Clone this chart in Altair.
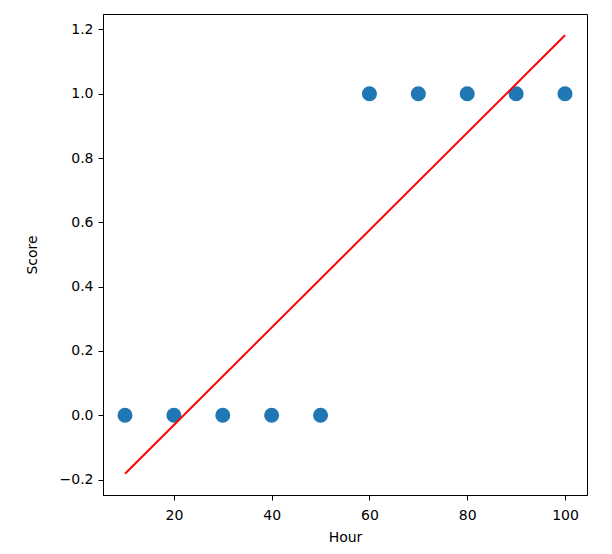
import altair as alt
import pandas as pd

hours = [10, 20, 30, 40, 50, 60, 70, 80, 90, 100]
scores = [0, 0, 0, 0, 0, 1, 1, 1, 1, 1]
fit_x = [10, 100]
fit_y = [-0.1818, 1.1818]

pts = pd.DataFrame({"Hour": hours, "Score": scores})
fit = pd.DataFrame({"Hour": fit_x, "Score": fit_y})

xs = alt.Scale(domain=[5.5, 104.5], nice=False, zero=False)
ys = alt.Scale(domain=[-0.248, 1.248], nice=False, zero=False)

common = dict(
    grid=False, labelFont="DejaVu Sans", titleFont="DejaVu Sans",
    labelFontSize=14, titleFontSize=14, titleFontWeight="normal",
    labelColor="black", titleColor="black", tickColor="black",
    domainColor="black", tickSize=5, labelFlush=False,
)
xax = alt.Axis(values=[20, 40, 60, 80, 100], title="Hour",
               labelPadding=8, titlePadding=8, **common)
yax = alt.Axis(values=[-0.2, 0.0, 0.2, 0.4, 0.6, 0.8, 1.0, 1.2], format=".1f",
               title="Score", labelPadding=5, titlePadding=20, **common)

points = alt.Chart(pts).mark_circle(size=227, opacity=1, color="#1f77b4").encode(
    x=alt.X("Hour:Q", scale=xs, axis=xax),
    y=alt.Y("Score:Q", scale=ys, axis=yax),
)
line = alt.Chart(fit).mark_line(color="red", strokeWidth=2).encode(
    x=alt.X("Hour:Q", scale=xs),
    y=alt.Y("Score:Q", scale=ys),
)

chart = (points + line).properties(
    width=484, height=481,
    autosize=alt.AutoSizeParams(type="none"),
    padding={"left": 95, "top": 6, "right": 10, "bottom": 50},
).configure_view(stroke="black", strokeWidth=1)

chart.save("out.html", embed_options={"renderer": "svg", "actions": False})
